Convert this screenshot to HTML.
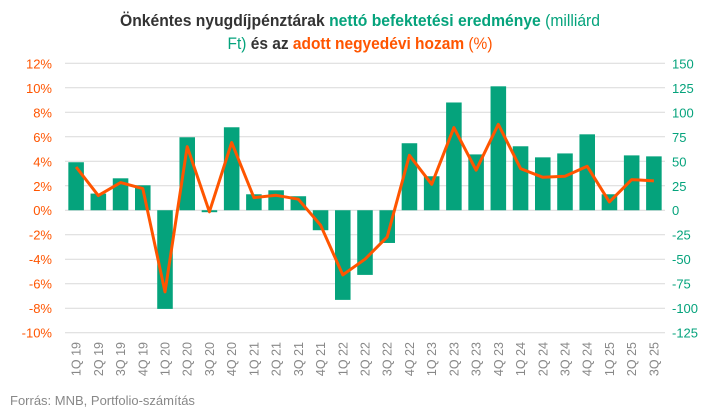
<!DOCTYPE html>
<html><head><meta charset="utf-8"><style>
body{margin:0;background:#fff;}
svg{display:block;font-family:"Liberation Sans",sans-serif;}
</style></head><body>
<svg id="chart" width="719" height="416" viewBox="0 0 719 416" xmlns="http://www.w3.org/2000/svg">
<text x="360" y="26" text-anchor="middle" font-size="17" font-weight="bold" textLength="480" lengthAdjust="spacingAndGlyphs"><tspan fill="#333">Önkéntes nyugdíjpénztárak </tspan><tspan fill="#05a37c">nettó befektetési eredménye </tspan><tspan fill="#05a37c" font-weight="normal">(milliárd</tspan></text>
<text x="360" y="49" text-anchor="middle" font-size="17" font-weight="bold" textLength="265" lengthAdjust="spacingAndGlyphs"><tspan fill="#05a37c" font-weight="normal">Ft) </tspan><tspan fill="#333">és az </tspan><tspan fill="#ff5500">adott negyedévi hozam </tspan><tspan fill="#ff5500" font-weight="normal">(%)</tspan></text>
<g id="grid"></g><g id="bars"></g><g id="line"></g><g id="axes"></g>
<text x="10" y="405" font-size="13" fill="#888">Forrás: MNB, Portfolio-számítás</text>
</svg>
<script>
const categories=["1Q 19","2Q 19","3Q 19","4Q 19","1Q 20","2Q 20","3Q 20","4Q 20","1Q 21","2Q 21","3Q 21","4Q 21","1Q 22","2Q 22","3Q 22","4Q 22","1Q 23","2Q 23","3Q 23","4Q 23","1Q 24","2Q 24","3Q 24","4Q 24","1Q 25","2Q 25","3Q 25"];
const netResult=[49,17,32.6,25.5,-100.7,74.5,-2,84.7,16.3,20.4,14.3,-20.4,-91.5,-66,-33.4,68.4,34.7,110,57,126.5,65.3,54,58,77.5,16.3,56,55];
const quarterlyReturn=[3.53,1.2,2.26,1.77,-6.67,5.2,-0.13,5.53,1.03,1.22,0.9,-1.22,-5.28,-4.0,-2.18,4.49,2.12,6.75,3.27,7.02,3.4,2.69,2.78,3.59,0.68,2.5,2.4];
const leftTicks=[12,10,8,6,4,2,0,-2,-4,-6,-8,-10];
const rightTicks=[150,125,100,75,50,25,0,-25,-50,-75,-100,-125];
const NS="http://www.w3.org/2000/svg";
const x0=65,x1=665,yTop=63.3,yBot=332.7;
const band=(x1-x0)/categories.length;
const yL=v=>yTop+(12-v)/22*(yBot-yTop);
const yR=v=>yTop+(150-v)/275*(yBot-yTop);
const xc=i=>x0+band*(i+0.5);
function mk(tag,attrs,parent){const e=document.createElementNS(NS,tag);for(const k in attrs)e.setAttribute(k,attrs[k]);document.getElementById(parent).appendChild(e);return e;}
leftTicks.forEach(t=>{
 const l=mk('line',{x1:x0,x2:x1,y1:yL(t),y2:yL(t),stroke:'#d9d9d9','stroke-width':1},'grid');
 
 
 const tx=mk('text',{x:52,y:yL(t)+5,'text-anchor':'end','font-size':13,fill:'#ff5500'},'axes');
 tx.textContent=t+'%';
 
 
});
rightTicks.forEach(t=>{
 const tx=mk('text',{x:672,y:yR(t)+5,'font-size':13,fill:'#05a37c'},'axes');
 tx.textContent=t;
 
 
});
const bw=band*0.7;
netResult.forEach((v,i)=>{
 const y=Math.min(yR(v),yR(0)),h=Math.abs(yR(v)-yR(0));
 const r=mk('rect',{x:xc(i)-bw/2,y:y,width:bw,height:h,fill:'#05a37c'},'bars');
 
 
});
const pts=quarterlyReturn.map((v,i)=>xc(i).toFixed(1)+','+yL(v).toFixed(1)).join(' ');
const pl=mk('polyline',{points:pts,fill:'none',stroke:'#ff5500','stroke-width':3,'stroke-linejoin':'round'},'line');


categories.forEach((c,i)=>{
 const tx=mk('text',{x:0,y:0,'font-size':12.5,fill:'#888','text-anchor':'end',transform:`translate(${xc(i)+4.5},342) rotate(-90)`},'axes');
 tx.textContent=c;
 
 
});
</script>
</body></html>
